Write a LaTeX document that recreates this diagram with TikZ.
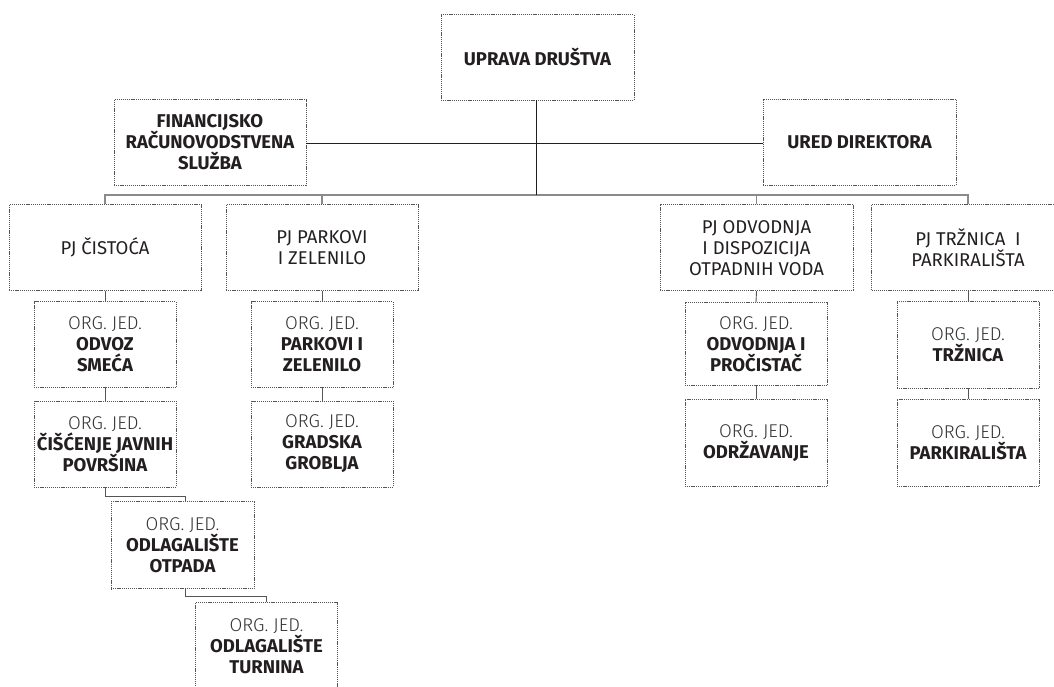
\documentclass[tikz,border=0pt]{standalone}
\usepackage{fontspec}
\setmainfont{Fira Sans}
\IfFontExistsTF{Fira Sans Light}{\newfontfamily\lightf{Fira Sans Light}}{\newfontfamily\lightf{Fira Sans}}
\definecolor{ink}{HTML}{231F20}
\definecolor{lightink}{HTML}{333333}
\definecolor{boxgray}{HTML}{555555}
\definecolor{busgray}{HTML}{8A8A8A}
\definecolor{orggray}{HTML}{555555}
\newcommand{\orgj}{{\lightf\color{lightink}ORG. JED.}}
\begin{document}
\begin{tikzpicture}[x=1pt,y=-1pt,
  box/.style={draw=boxgray, line width=0.8pt, dash pattern=on 1.2pt off 0.9pt,
    align=center, inner sep=0pt, text=ink, font=\fontsize{18.5}{21}\selectfont},
  bigbox/.style={box, minimum width=192pt, minimum height=86pt},
  orgbox/.style={box, minimum width=142pt, minimum height=86pt},
  topline/.style={draw=ink, line width=1pt},
  busline/.style={draw=busgray, line width=1.4pt},
  orgline/.style={draw=orggray, line width=0.9pt}]
\useasboundingbox (0,0) rectangle (1054,686);

% top level
\node[bigbox, minimum width=193pt, minimum height=85.5pt] (uprava) at (537.5,57.3) {\bfseries UPRAVA DRUŠTVA};
\node[bigbox] (fin) at (210,142.5) {\bfseries FINANCIJSKO\\\bfseries RAČUNOVODSTVENA\\\bfseries SLUŽBA};
\node[bigbox, minimum width=193pt] (ured) at (859.5,142) {\bfseries URED DIREKTORA};

% PJ level
\node[bigbox] (pjc) at (105,247.7) {PJ ČISTOĆA};
\node[bigbox] (pjp) at (322,247.7) {PJ PARKOVI\\I ZELENILO};
\node[bigbox, minimum width=193pt] (pjo) at (756.5,247.7) {PJ ODVODNJA\\I DISPOZICIJA\\OTPADNIH VODA};
\node[bigbox, minimum width=193pt] (pjt) at (968,247.7) {PJ TRŽNICA\ \ I\\PARKIRALIŠTA};

% org units
\node[orgbox] (odvoz) at (105,344.5) {\orgj\\\bfseries ODVOZ\\\bfseries SMEĆA};
\node[orgbox] (cisc) at (105,444) {\orgj\\\bfseries ČIŠĆENJE JAVNIH\\\bfseries POVRŠINA};
\node[orgbox, minimum width=143pt, minimum height=87pt] (otpada) at (182.5,545.3) {\orgj\\\bfseries ODLAGALIŠTE\\\bfseries OTPADA};
\node[orgbox, minimum height=87pt] (turnina) at (266.5,646) {\orgj\\\bfseries ODLAGALIŠTE\\\bfseries TURNINA};

\node[orgbox] (parkz) at (322,344.5) {\orgj\\\bfseries PARKOVI I\\\bfseries ZELENILO};
\node[orgbox] (grad) at (322,444) {\orgj\\\bfseries GRADSKA\\\bfseries GROBLJA};

\node[orgbox, minimum height=83pt] (odvp) at (756,344) {\orgj\\\bfseries ODVODNJA I\\\bfseries PROČISTAČ};
\node[orgbox, minimum height=87pt] (odrz) at (756,443) {\orgj\\\bfseries ODRŽAVANJE};

\node[orgbox, minimum height=86.6pt] (trz) at (968,345) {\orgj\\\bfseries TRŽNICA};
\node[orgbox, minimum height=87pt] (park) at (968,443) {\orgj\\\bfseries PARKIRALIŠTA};

% connectors, top
\coordinate (busy) at (0,195);
\draw[busline] (pjc.north) -- (pjc.north |- busy) -- (pjt.north |- busy) -- (pjt.north);
\draw[busline] (pjp.north) -- (pjp.north |- busy);
\draw[busline] (pjo.north) -- (pjo.north |- busy);
\draw[topline] ([xshift=-1.5pt]uprava.south) -- ([xshift=-1.5pt]uprava.south |- busy);
\draw[topline] ([yshift=-1pt]fin.east) -- ([yshift=-1pt]fin.east -| ured.west);

% connectors, lower
\draw[orgline] (pjc.south) -- (odvoz.north);
\draw[orgline] (odvoz.south) -- (cisc.north);
\draw[orgline] (cisc.south) -- ++(0,9.5) -| ([xshift=3pt]otpada.north);
\draw[orgline] ([xshift=3pt]otpada.south) -- ++(0,7) -| (turnina.north);
\draw[orgline] (pjp.south) -- (parkz.north);
\draw[orgline] (parkz.south) -- (grad.north);
\draw[orgline] (pjo.south) -- (odvp.north);
\draw[orgline] (odvp.south) -- (odrz.north);
\draw[orgline] (pjt.south) -- (trz.north);
\draw[orgline] (trz.south) -- (park.north);
\end{tikzpicture}
\end{document}
